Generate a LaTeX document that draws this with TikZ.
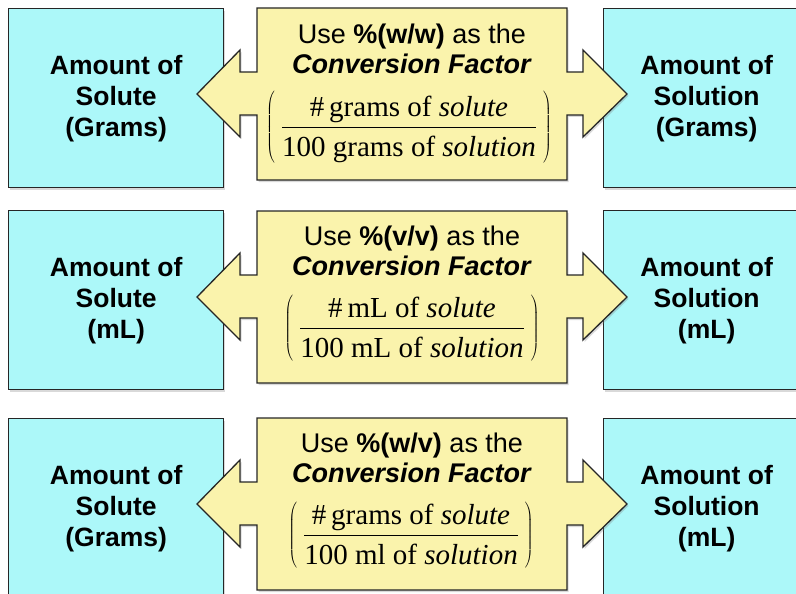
\documentclass[tikz,border=0pt]{standalone}
\usepackage{fontspec}
\setmainfont{Liberation Serif}
\setsansfont{Liberation Sans}
\usetikzlibrary{positioning,shadows}

\definecolor{boxcyan}{RGB}{172,248,249}
\definecolor{boxyellow}{RGB}{250,243,172}
\newcommand{\numtx}[1]{\mbox{\fontsize{29}{34}\selectfont\rule[-7pt]{0pt}{26pt}#1}}
\newcommand{\dentx}[1]{\mbox{\fontsize{29}{34}\selectfont\rule[-6pt]{0pt}{34pt}#1}}

\begin{document}
\begin{tikzpicture}[x=1pt, y=-1pt,
  amount/.style={rectangle, draw=black!85, line width=1.3pt,
    fill=boxcyan, minimum width=215pt, minimum height=179pt,
    inner sep=0pt, align=center, anchor=north west,
    font=\sffamily\bfseries\fontsize{26.5}{31}\selectfont,
    drop shadow={shadow xshift=1.5pt, shadow yshift=-2pt, opacity=0.3}},
  twoway/.pic={
    \path[draw=black!85, line width=1.3pt, fill=boxyellow,
      drop shadow={shadow xshift=1.5pt, shadow yshift=-2pt, opacity=0.3}]
      (0,0) -- (310,0) -- (310,64) -- (326,64) -- (326,42)
      -- (370,86) -- (326,129) -- (326,107) -- (310,107)
      -- (310,172) -- (0,172) -- (0,107) -- (-17,107) -- (-17,129)
      -- (-60,86) -- (-17,42) -- (-17,64) -- (0,64) -- cycle;
  },
  howto/.style={align=center, inner sep=0pt,
    font=\sffamily\fontsize{27}{30}\selectfont},
  ratio/.style={inner sep=0pt, font=\fontsize{32}{36}\selectfont},
]
  \useasboundingbox (0,0) rectangle (796,594);
  \clip (0,0) rectangle (796,594);

  % row 1: w/w
  \node[amount] (solute1) at (8,8) {Amount of\\Solute\\(Grams)};
  \node[amount, minimum width=206pt] (solution1) at (603,8)
    {Amount of\\Solution\\(Grams)};
  \pic (factor1) at (257,8) {twoway};
  \node[howto] (howto1) at (412,49)
    {Use \textbf{\%(w/w)} as the\\\textbf{\textit{Conversion Factor}}};
  \node[ratio] (ratio1) at (409,127)
    {$\displaystyle\left(\hspace{6pt}\frac{\numtx{\#\,grams of \textit{solute}}}
      {\dentx{100 grams of \textit{solution}}}\hspace{6pt}\right)$};

  % row 2: v/v
  \node[amount] (solute2) at (8,210) {Amount of\\Solute\\(mL)};
  \node[amount, minimum width=206pt] (solution2) at (603,210)
    {Amount of\\Solution\\(mL)};
  \pic (factor2) at (257,211) {twoway};
  \node[howto] (howto2) at (412,251)
    {Use \textbf{\%(v/v)} as the\\\textbf{\textit{Conversion Factor}}};
  \node[ratio] (ratio2) at (412,329)
    {$\displaystyle\left(\hspace{6pt}\frac{\numtx{\#\,mL of \textit{solute}}}
      {\dentx{100 mL of \textit{solution}}}\hspace{6pt}\right)$};

  % row 3: w/v
  \node[amount] (solute3) at (8,418) {Amount of\\Solute\\(Grams)};
  \node[amount, minimum width=206pt] (solution3) at (603,418)
    {Amount of\\Solution\\(mL)};
  \pic (factor3) at (257,418) {twoway};
  \node[howto] (howto3) at (412,458)
    {Use \textbf{\%(w/v)} as the\\\textbf{\textit{Conversion Factor}}};
  \node[ratio] (ratio3) at (411,536)
    {$\displaystyle\left(\hspace{6pt}\frac{\numtx{\#\,grams of \textit{solute}}}
      {\dentx{100 ml of \textit{solution}}}\hspace{6pt}\right)$};
\end{tikzpicture}
\end{document}
